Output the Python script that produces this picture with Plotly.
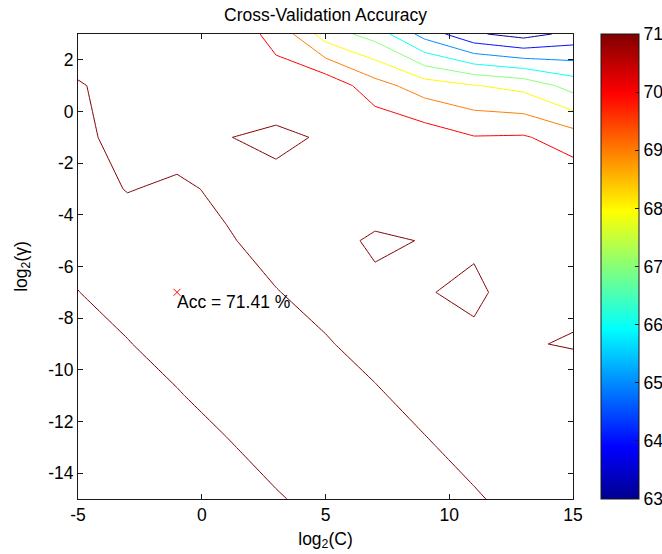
import plotly.graph_objects as go

# Grid (libsvm-style search grid)
log2c = [-5, -3, -1, 1, 3, 5, 7, 9, 11, 13, 15]
log2g = [-15, -13, -11, -9, -7, -5, -3, -1, 1, 3]

# Cross-validation accuracy (%) for each log2(gamma) row, across log2(C)
acc_g3 = [70.60, 70.60, 70.60, 70.42, 69.80, 67.50, 66.59, 64.62, 63.15, 62.60, 63.30]
acc_g1 = [71.05, 70.77, 70.70, 70.60, 70.29, 70.73, 69.40, 68.50, 68.05, 67.70, 66.60]
acc_gm1 = [71.15, 70.78, 70.80, 70.97, 71.22, 70.89, 70.90, 70.60, 70.05, 70.10, 69.50]
acc_gm3 = [71.20, 70.98, 71.08, 70.91, 70.70, 70.60, 70.56, 70.70, 70.50, 70.60, 70.80]
acc_gm5 = [71.20, 71.25, 71.30, 71.04, 70.85, 70.77, 71.10, 70.975, 70.92, 70.70, 70.70]
acc_gm7 = [70.99, 71.25, 71.41, 71.25, 71.016, 70.86, 70.86, 70.97, 71.10, 70.76, 70.83]
acc_gm9 = [70.80, 70.97, 71.27, 71.30, 71.25, 71.035, 70.85, 70.80, 70.89, 70.95, 71.05]
acc_gm11 = [70.75, 70.80, 70.95, 71.28, 71.30, 71.25, 71.05, 70.85, 70.80, 70.75, 70.55]
acc_gm13 = [70.70, 70.75, 70.80, 70.93, 71.28, 71.30, 71.25, 71.05, 70.85, 70.80, 70.75]
acc_gm15 = [70.70, 70.70, 70.75, 70.80, 70.93, 71.25, 71.30, 71.25, 71.05, 70.84, 70.80]

# Best result
best_log2c = -1
best_log2g = -7
best_acc = 71.41

# Contour levels / colour limits
level_min = 63
level_max = 71
level_step = 1

x_ticks = [-5, 0, 5, 10, 15]
y_ticks = [-14, -12, -10, -8, -6, -4, -2, 0, 2]
cb_ticks = [63, 64, 65, 66, 67, 68, 69, 70, 71]

z = [acc_gm15, acc_gm13, acc_gm11, acc_gm9, acc_gm7,
     acc_gm5, acc_gm3, acc_gm1, acc_g1, acc_g3]

jet = [
    [0.0, "rgb(0,0,143)"],
    [7 / 63, "rgb(0,0,255)"],
    [23 / 63, "rgb(0,255,255)"],
    [39 / 63, "rgb(255,255,0)"],
    [55 / 63, "rgb(255,0,0)"],
    [1.0, "rgb(128,0,0)"],
]

FONT = "Arial, Liberation Sans, Helvetica, sans-serif"
FS = 17.5
AXC = "#1a1a1a"

fig = go.Figure()

fig.add_trace(go.Contour(
    x=log2c, y=log2g, z=z,
    colorscale=jet, zmin=level_min, zmax=level_max, zauto=False,
    autocontour=False,
    contours=dict(start=level_min, end=level_max, size=level_step, coloring="lines"),
    line=dict(width=1, smoothing=0),
    showscale=False, hoverinfo="skip",
))

fig.add_trace(go.Scatter(
    x=[best_log2c], y=[best_log2g], mode="markers",
    marker=dict(symbol="x-thin", size=7, line=dict(color="red", width=1), color="red"),
    showlegend=False, hoverinfo="skip",
))

# colour bar (continuous jet, like MATLAB)
fig.add_trace(go.Scatter(
    x=[None], y=[None], mode="markers", showlegend=False, hoverinfo="skip",
    marker=dict(color=[level_min], colorscale=jet, cmin=level_min, cmax=level_max,
                showscale=True,
                colorbar=dict(
                    thickness=38, thicknessmode="pixels",
                    len=1, lenmode="fraction",
                    x=(601 - 78) / 495, xanchor="left", xpad=0,
                    y=0.5, yanchor="middle", ypad=0,
                    outlinewidth=1, outlinecolor=AXC,
                    tickmode="array", tickvals=cb_ticks,
                    ticktext=[str(t) for t in cb_ticks],
                    ticks="inside", ticklen=4, tickcolor=AXC,
                    tickfont=dict(family=FONT, size=FS, color="black"),
                )),
))

fig.add_annotation(
    x=best_log2c, y=best_log2g, text=f"Acc = {best_acc:.2f} %",
    showarrow=False, xanchor="left", yanchor="middle", xshift=-2, yshift=-10,
    font=dict(family=FONT, size=FS, color="black"),
)

axis_common = dict(
    showgrid=False, zeroline=False, showline=True, linecolor=AXC, linewidth=1,
    mirror="allticks", ticks="inside", ticklen=5, tickcolor=AXC,
    tickfont=dict(family=FONT, size=FS, color="black"),
)

fig.update_layout(
    width=662, height=554,
    margin=dict(l=78, r=89, t=34, b=55, autoexpand=False),
    paper_bgcolor="white", plot_bgcolor="white",
    title=dict(text="Cross-Validation Accuracy", x=0.5, xref="paper",
               y=1 - 15 / 554, yref="container", yanchor="middle", xanchor="center",
               font=dict(family=FONT, size=FS, color="black")),
    xaxis=dict(range=[-5, 15], tickvals=x_ticks, ticktext=[str(t) for t in x_ticks],
               title=dict(text="log<sub>2</sub>(C)", standoff=8,
                          font=dict(family=FONT, size=FS, color="black")),
               **axis_common),
    yaxis=dict(range=[-15, 3], tickvals=y_ticks, ticktext=[str(t) for t in y_ticks],
               title=dict(text="log<sub>2</sub>(γ)", standoff=16,
                          font=dict(family=FONT, size=FS, color="black")),
               **axis_common),
    showlegend=False,
)

fig.write_html(
    "out.html",
    config={"displayModeBar": False},
    post_script="document.body.style.margin='0';document.body.style.overflow='hidden';",
)
